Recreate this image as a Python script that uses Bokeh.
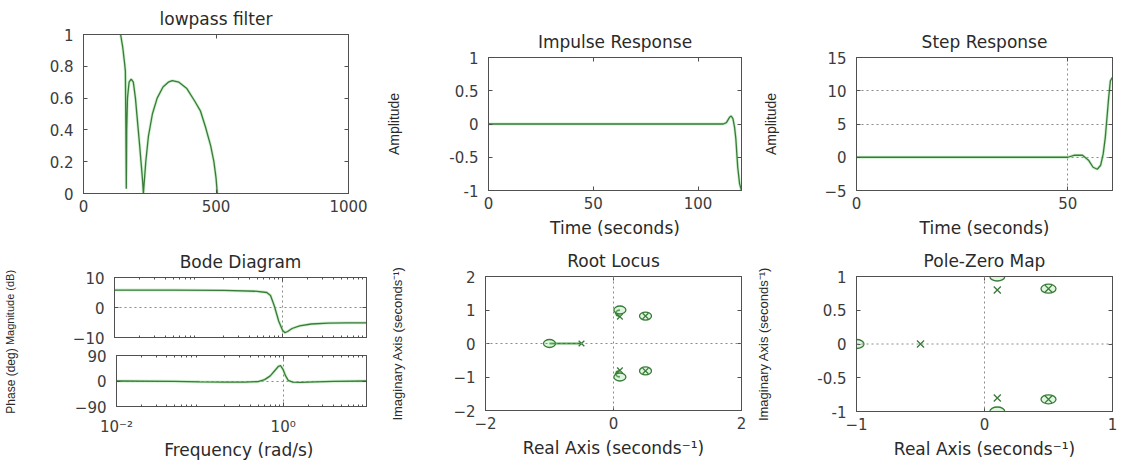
from bokeh.plotting import figure
from bokeh.layouts import row, column
from bokeh.models import Range1d, FixedTicker, LinearAxis, Span, BasicTickFormatter
from bokeh.embed import file_html
from bokeh.resources import INLINE

# ---------------- data ----------------
# lowpass filter
lp_x = [140, 148, 155, 158, 160, 161.5, 163, 166, 172, 180, 188, 196, 205, 212, 218, 223, 226,
        235, 245, 260, 278, 300, 320, 335, 360, 390, 420, 441, 460, 480, 492, 500, 505]
lp_y = [1.0, 0.92, 0.82, 0.77, 0.4, 0.03, 0.4, 0.6, 0.7, 0.72, 0.7, 0.6, 0.43, 0.3, 0.18, 0.08, 0.0,
        0.2, 0.36, 0.5, 0.6, 0.67, 0.7, 0.71, 0.7, 0.66, 0.58, 0.52, 0.42, 0.3, 0.2, 0.1, 0.0]
lp_xticks = [0, 500, 1000]
lp_yticks = [0, 0.2, 0.4, 0.6, 0.8, 1]
lp_ylabels = ["0", "0.2", "0.4", "0.6", "0.8", "1"]

# impulse response
imp_t = [0, 112, 113.5, 115, 115.8, 116.6, 117.4, 118, 118.9, 119.8, 120.7]
imp_y = [0, 0, 0.02, 0.1, 0.12, 0.08, -0.05, -0.22, -0.65, -0.9, -1.0]
imp_xticks = [0, 50, 100]
imp_yticks = [-1, -0.5, 0, 0.5, 1]
imp_ylabels = ["-1", "-0.5", "0", "0.5", "1"]

# step response
step_t = [0, 50, 51.5, 53.5, 55, 56, 57, 57.8, 58.4, 58.9, 59.3, 59.7, 60.1, 60.6]
step_y = [0, 0, 0.3, 0.3, -0.5, -1.5, -1.8, -1.2, 0.5, 3, 6, 9, 11.5, 12]
step_xticks = [0, 50]
step_yticks = [-5, 0, 5, 10, 15]

# Bode diagram
bode_w = [0.01, 0.05, 0.2, 0.5, 0.65, 0.72, 0.8, 0.9, 1.0, 1.07, 1.15, 1.3, 1.6, 2.2, 3.5, 6, 10]
bode_mag = [5.8, 5.8, 5.7, 5.4, 5.0, 4.0, 0.5, -4.5, -7.6, -8.4, -8.0, -7.0, -6.1, -5.5, -5.2, -5.1, -5.1]
phase_w = [0.01, 0.05, 0.1, 0.2, 0.35, 0.5, 0.6, 0.7, 0.8, 0.88, 0.93, 1.0, 1.07, 1.15, 1.3, 1.6, 2.5, 4, 10]
phase_deg = [0, -1, -3, -4, -4, -2, 5, 18, 38, 52, 54, 40, 18, 2, -4, -5, -3, -1, 0]
bode_xticks = [0.01, 1]
bode_xlabels = ["10\u207b\u00b2", "10\u2070"]
bode_minor = [0.02, 0.03, 0.04, 0.05, 0.06, 0.07, 0.08, 0.09,
              0.2, 0.3, 0.4, 0.5, 0.6, 0.7, 0.8, 0.9,
              2, 3, 4, 5, 6, 7, 8, 9]
mag_yticks = [-10, 0, 10]
phase_yticks = [-90, 0, 90]

# poles and zeros (same system in Root Locus and Pole-Zero Map)
zeros_re = [0.1, 0.1, 0.5, 0.5, -1.0]
zeros_im = [1.0, -1.0, 0.82, -0.82, 0.0]
poles_re = [0.1, 0.1, 0.5, 0.5, -0.5]
poles_im = [0.8, -0.8, 0.82, -0.82, 0.0]
# root-locus branches
br_real_x = [-0.5, -1.0]
br_real_y = [0.0, 0.0]
br_up_x = [0.1, 0.05, 0.03, 0.06, 0.1]
br_up_y = [0.8, 0.84, 0.92, 0.98, 1.0]
br_dn_x = [0.1, 0.05, 0.03, 0.06, 0.1]
br_dn_y = [-0.8, -0.84, -0.92, -0.98, -1.0]
rl_ticks_x = [-2, 0, 2]
rl_ticks_y = [-2, -1, 0, 1, 2]
pz_ticks_x = [-1, 0, 1]
pz_ticks_y = [-1, -0.5, 0, 0.5, 1]
pz_ylabels = ["-1", "-0.5", "0", "0.5", "1"]

# ---------------- styles ----------------
LINE = "#3a7a3a"
HALO = "#8fe08f"
FRAME = "#505050"
TXT = "#2a2a2a"
TICKC = "#3c3c3c"
DOT = "#8a8a8a"
SANS = "DejaVu Sans"
NARROW = "Liberation Sans"
TICK_SIZE = "15px"
LABEL_SIZE = "17px"


def make_fig(w, h, left, right, top, bottom, xr, yr, x_type="linear"):
    p = figure(width=w, height=h, x_range=Range1d(*xr), y_range=Range1d(*yr),
               x_axis_type=x_type, output_backend="svg", toolbar_location=None,
               min_border_left=left, min_border_right=right,
               min_border_top=top, min_border_bottom=bottom)
    p.grid.visible = False
    p.outline_line_color = FRAME
    p.outline_line_width = 1
    p.background_fill_color = "white"
    p.border_fill_color = "white"
    return p


def style_axis(ax, ticks, labels=None, minor=None, show=True):
    ax.ticker = FixedTicker(ticks=ticks, minor_ticks=minor or [])
    ax.formatter = BasicTickFormatter()
    ax.major_tick_in = 4
    ax.major_tick_out = 0
    ax.minor_tick_in = 2 if minor else 0
    ax.minor_tick_out = 0
    ax.axis_line_color = FRAME
    ax.major_tick_line_color = FRAME
    ax.minor_tick_line_color = FRAME
    if show:
        if labels:
            ax.major_label_overrides = {t: l for t, l in zip(ticks, labels)}
        ax.major_label_text_font_size = TICK_SIZE
        ax.major_label_standoff = 6
    else:
        ax.major_label_overrides = {t: " " for t in ticks}
        ax.major_label_text_font_size = "1px"
        ax.major_label_standoff = 0
    ax.major_label_text_font = SANS
    ax.major_label_text_color = TICKC


def axes(p, xticks, yticks, xlabels=None, ylabels=None, xminor=None, show_x=True):
    style_axis(p.below[0], xticks, xlabels, xminor, show=show_x)
    style_axis(p.left[0], yticks, ylabels)
    p.left[0].major_label_standoff = 10
    top = LinearAxis()
    style_axis(top, xticks, minor=xminor, show=False)
    p.add_layout(top, "above")
    right = LinearAxis()
    style_axis(right, yticks, show=False)
    p.add_layout(right, "right")


def set_title(p, text, standoff=4):
    p.title.text = text
    p.title.align = "center"
    p.title.text_font = SANS
    p.title.text_font_size = LABEL_SIZE
    p.title.text_font_style = "normal"
    p.title.text_color = TXT
    p.title.standoff = standoff


def xlabel(p, text, standoff=6):
    ax = p.below[0]
    ax.axis_label = text
    ax.axis_label_text_font = SANS
    ax.axis_label_text_font_size = LABEL_SIZE
    ax.axis_label_text_font_style = "normal"
    ax.axis_label_text_color = TXT
    ax.axis_label_standoff = standoff


def ylabel(p, text, standoff, size="14px"):
    ax = p.left[0]
    ax.axis_label = text
    ax.axis_label_text_font = NARROW
    ax.axis_label_text_font_size = size
    ax.axis_label_text_font_style = "normal"
    ax.axis_label_text_color = TXT
    ax.axis_label_standoff = standoff


def trace(p, x, y):
    p.line(x, y, line_color=HALO, line_width=3, line_alpha=0.45)
    p.line(x, y, line_color=LINE, line_width=1.3)


def dotted(p, loc, dim):
    p.add_layout(Span(location=loc, dimension=dim, line_color=DOT,
                      line_dash="2 3", line_width=1))


def grid_on(p, xt, yt):
    p.xgrid.visible = True
    p.ygrid.visible = True
    p.xgrid.ticker = FixedTicker(ticks=xt)
    p.ygrid.ticker = FixedTicker(ticks=yt)
    for g in (p.xgrid[0], p.ygrid[0]):
        g.grid_line_color = DOT
        g.grid_line_dash = "2 3"
        g.grid_line_width = 1


# ---------------- top row ----------------
lp = make_fig(383, 240, 83, 35, 34, 47, (0, 1000), (0, 1))
axes(lp, lp_xticks, lp_yticks, ylabels=lp_ylabels)
set_title(lp, "lowpass filter")
trace(lp, lp_x, lp_y)

imp = make_fig(367, 240, 102, 9, 57, 48, (0, 120.7), (-1, 1))
axes(imp, imp_xticks, imp_yticks, ylabels=imp_ylabels)
set_title(imp, "Impulse Response")
xlabel(imp, "Time (seconds)")
ylabel(imp, "Amplitude", 44)
trace(imp, imp_t, imp_y)

step = make_fig(395, 240, 106, 33, 57, 47, (0, 60.6), (-5, 15))
axes(step, step_xticks, step_yticks)
grid_on(step, step_xticks, step_yticks)
set_title(step, "Step Response")
xlabel(step, "Time (seconds)")
ylabel(step, "Amplitude", 42)
trace(step, step_t, step_y)

# ---------------- bottom row ----------------
mag = make_fig(383, 106, 113, 17, 37, 9, (0.01, 10), (-10, 10), x_type="log")
axes(mag, bode_xticks, mag_yticks, xminor=bode_minor, show_x=False)
grid_on(mag, bode_xticks, mag_yticks)
set_title(mag, "Bode Diagram")
ylabel(mag, "Magnitude (dB)", 54, size="11px")
trace(mag, bode_w, bode_mag)

ph = make_fig(383, 116, 113, 17, 9, 52, (0.01, 10), (-90, 90), x_type="log")
axes(ph, bode_xticks, phase_yticks, xlabels=bode_xlabels, xminor=bode_minor)
ph.below[0].major_label_standoff = 11
grid_on(ph, bode_xticks, phase_yticks)
xlabel(ph, "Frequency  (rad/s)", 1)
ylabel(ph, "Phase (deg)", 54, size="12px")
trace(ph, phase_w, phase_deg)

rl = make_fig(367, 222, 102, 9, 36, 52, (-2, 2), (-2, 2))
axes(rl, rl_ticks_x, rl_ticks_y)
set_title(rl, "Root Locus")
xlabel(rl, "Real Axis (seconds\u207b\u00b9)")
ylabel(rl, "Imaginary Axis (seconds\u207b\u00b9)", 45, size="13px")
dotted(rl, 0, "width")
dotted(rl, 0, "height")
for bx, by in ((br_real_x, br_real_y), (br_up_x, br_up_y), (br_dn_x, br_dn_y)):
    trace(rl, bx, by)
rl.ellipse(x=zeros_re, y=zeros_im, width=12, height=8, width_units="screen",
           height_units="screen", fill_color=HALO, fill_alpha=0.3,
           line_color=LINE, line_width=1.3)
rl.scatter(poles_re, poles_im, marker="x", size=8, line_color=LINE, line_width=1.3)

pz = make_fig(395, 222, 106, 33, 36, 51, (-1, 1), (-1, 1))
axes(pz, pz_ticks_x, pz_ticks_y, ylabels=pz_ylabels)
set_title(pz, "Pole-Zero Map")
xlabel(pz, "Real Axis (seconds\u207b\u00b9)")
ylabel(pz, "Imaginary Axis (seconds\u207b\u00b9)", 43, size="13px")
dotted(pz, 0, "width")
dotted(pz, 0, "height")
pz.ellipse(x=zeros_re, y=zeros_im, width=15, height=9, width_units="screen",
           height_units="screen", fill_color=HALO, fill_alpha=0.3,
           line_color=LINE, line_width=1.3)
pz.scatter(poles_re, poles_im, marker="x", size=10, line_color=LINE, line_width=1.3)

layout = row(column(row(lp), row(mag), row(ph)),
             column(row(imp), row(rl)),
             column(row(step), row(pz)))

open("out.html", "w").write(file_html(layout, INLINE))
